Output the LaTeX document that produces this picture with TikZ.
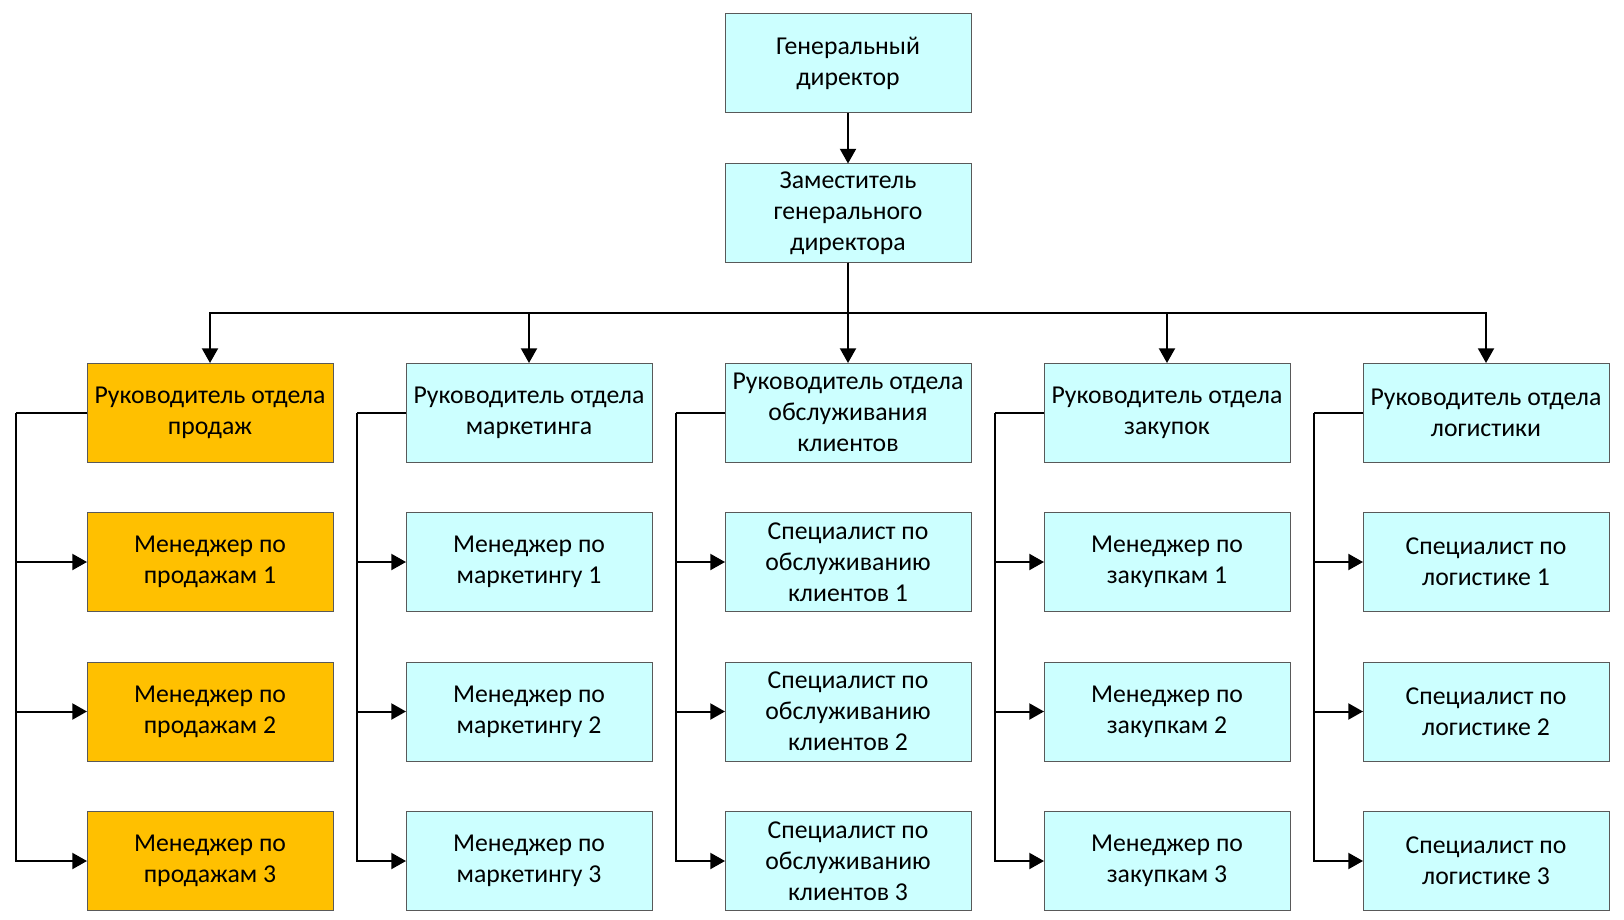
\documentclass[tikz,border=0pt]{standalone}
\usepackage{fontspec}
\setmainfont{Carlito}
\usetikzlibrary{arrows.meta}
\definecolor{unitColor}{HTML}{CCFFFF}
\definecolor{saleColor}{HTML}{FFC000}
\definecolor{rimColor}{HTML}{595959}
\tikzset{
	unit/.style={draw=rimColor, line width=0.75pt, fill=unitColor, outer sep=0, inner sep=0pt,
		minimum width=184.5pt, minimum height=74.25pt, align=center,
		font=\fontsize{19.3}{23.3}\selectfont},
	sale/.style={unit, fill=saleColor},
	wire/.style={draw, line width=1.5pt},
	link/.style={wire, -{Triangle[length=11pt,width=12pt]}}
}
\begin{document}
\begin{tikzpicture}[x=0.75pt, y=-0.75pt]
				\useasboundingbox (0,0) rectangle (1624,920);
				\node[unit] (gd) at (848, 63.5) {Генеральный\\директор};
				\node[unit] (zam) at (848, 213) {Заместитель\\генерального\\директора};
				\coordinate (bus) at (848, 313);
				
				\node[sale] (h1) at (210, 412.5) {Руководитель отдела\\продаж};
				\node[unit] (h2) at (529, 412.5) {Руководитель отдела\\маркетинга};
				\node[unit] (h3) at (848, 412.5) {Руководитель отдела\\обслуживания\\клиентов};
				\node[unit] (h4) at (1167, 412.5) {Руководитель отдела\\закупок};
				\node[unit] (h5) at (1486, 412.5) {Руководитель отдела\\логистики};
				
				\node[sale] (s11) at (210, 562) {Менеджер по\\продажам 1};
				\node[sale] (s12) at (210, 711.5) {Менеджер по\\продажам 2};
				\node[sale] (s13) at (210, 861) {Менеджер по\\продажам 3};
				\node[unit] (s21) at (529, 562) {Менеджер по\\маркетингу 1};
				\node[unit] (s22) at (529, 711.5) {Менеджер по\\маркетингу 2};
				\node[unit] (s23) at (529, 861) {Менеджер по\\маркетингу 3};
				\node[unit] (s31) at (848, 562) {Специалист по\\обслуживанию\\клиентов 1};
				\node[unit] (s32) at (848, 711.5) {Специалист по\\обслуживанию\\клиентов 2};
				\node[unit] (s33) at (848, 861) {Специалист по\\обслуживанию\\клиентов 3};
				\node[unit] (s41) at (1167, 562) {Менеджер по\\закупкам 1};
				\node[unit] (s42) at (1167, 711.5) {Менеджер по\\закупкам 2};
				\node[unit] (s43) at (1167, 861) {Менеджер по\\закупкам 3};
				\node[unit] (s51) at (1486, 562) {Специалист по\\логистике 1};
				\node[unit] (s52) at (1486, 711.5) {Специалист по\\логистике 2};
				\node[unit] (s53) at (1486, 861) {Специалист по\\логистике 3};
				
				\path[link] (gd.south) -- (zam.north);
				\foreach \h in {1,...,5}
					\path[link] (zam.south) -- (bus) -| (h\h.north);
				% branch lines on the left of each column
				\foreach \c/\d in {1/71, 2/49, 3/49, 4/49, 5/49} {
					\path[wire] (h\c.west) -- ++(-\d,0) coordinate (b\c);
					\foreach \r in {1,2,3}
						\path[link] (b\c) |- (s\c\r.west);
				}
			\end{tikzpicture}
\end{document}
